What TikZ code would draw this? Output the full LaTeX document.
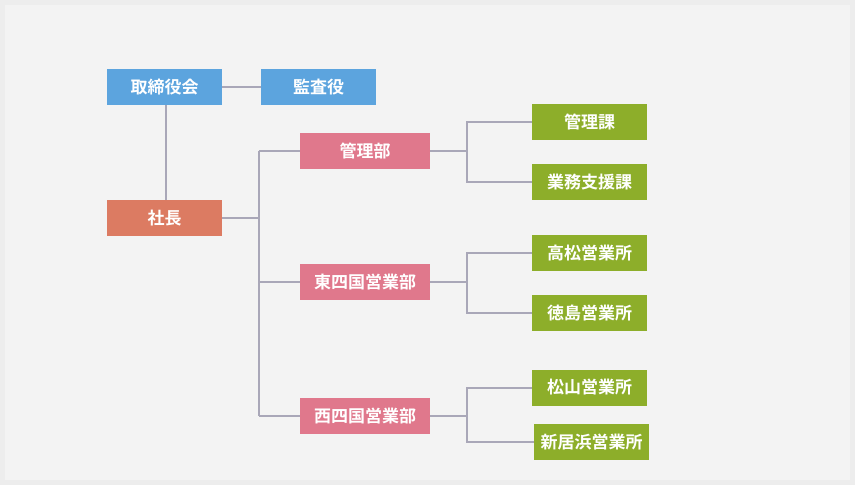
\documentclass[tikz,border=0pt]{standalone}
\usepackage{fontspec}
\newfontfamily\jpfont{Noto Sans CJK JP}[BoldFont={Noto Sans CJK JP Bold}]
\usepackage{tikz}
\usetikzlibrary{calc}

\definecolor{pageGray}{HTML}{EDEDED}
\definecolor{panelGray}{HTML}{F3F3F3}
\definecolor{lineGray}{HTML}{A9A7B8}
\definecolor{boardBlue}{HTML}{5CA4DE}
\definecolor{chiefRed}{HTML}{DC7B62}
\definecolor{deptPink}{HTML}{E0788C}
\definecolor{unitGreen}{HTML}{8DAE2A}

\begin{document}
\begin{tikzpicture}[x=1pt, y=-1pt,
	box/.style = {minimum width = 115pt, minimum height = 36pt, inner sep = 0pt, text = white, font = \jpfont\bfseries\fontsize{17}{20}\selectfont},
	board/.style = {box, fill = boardBlue},
	chief/.style = {box, fill = chiefRed},
	dept/.style = {box, fill = deptPink, minimum width = 130pt},
	unit/.style = {box, fill = unitGreen},
	link/.style = {draw = lineGray, line width = 2pt}]

	% background
	\fill [pageGray] (0,0) rectangle (855,485);
	\fill [panelGray] (5,5) rectangle (850,480);
	\useasboundingbox (0,0) rectangle (855,485);

	% top
	\node [board] (torishimari) at (164.5,87) {取締役会};
	\node [board] (kansa) at (318.5,87) {監査役};
	\node [chief] (shacho) at (164.5,218) {社長};

	% departments
	\def \deptX {365};
	\node [dept] (kanribu) at (\deptX,151) {管理部};
	\node [dept] (higashi) at (\deptX,282) {東四国営業部};
	\node [dept] (nishi) at (\deptX,416) {西四国営業部};

	% sections and offices
	\def \unitX {589.5};
	\node [unit] (kanrika) at (\unitX,122) {管理課};
	\node [unit] (gyomu) at (\unitX,182) {業務支援課};
	\node [unit] (takamatsu) at (\unitX,253) {高松営業所};
	\node [unit] (tokushima) at (\unitX,313) {徳島営業所};
	\node [unit] (matsuyama) at (\unitX,387.5) {松山営業所};
	\node [unit] (niihama) at (\unitX + 2,442) {新居浜営業所};

	% board and president
	\draw [link] (torishimari) -- (kansa);
	\draw [link] ($(torishimari.south) + (1.5,0)$) -- ($(shacho.north) + (1.5,0)$);

	% president to departments
	\def \busX {259};
	\coordinate (busTop) at (\busX,151);
	\coordinate (busBot) at (\busX,416);
	\draw [link] (busTop) -- (busBot);
	\draw [link] (shacho.east) -- (shacho.east -| busTop);
	\draw [link] (busTop) -- (kanribu.west);
	\draw [link] (higashi.west -| busTop) -- (higashi.west);
	\draw [link] (busBot) -- (nishi.west);

	% departments to units
	\def \fork {37};
	\draw [link] (kanribu.east) -- ++(\fork,0);
	\draw [link] (kanrika.west) -| ($(kanribu.east) + (\fork,0)$) |- (gyomu.west);
	\draw [link] (higashi.east) -- ++(\fork,0);
	\draw [link] (takamatsu.west) -| ($(higashi.east) + (\fork,0)$) |- (tokushima.west);
	\draw [link] (nishi.east) -- ++(\fork,0);
	\draw [link] (matsuyama.west) -| ($(nishi.east) + (\fork,0)$) |- (niihama.west);

\end{tikzpicture}
\end{document}
